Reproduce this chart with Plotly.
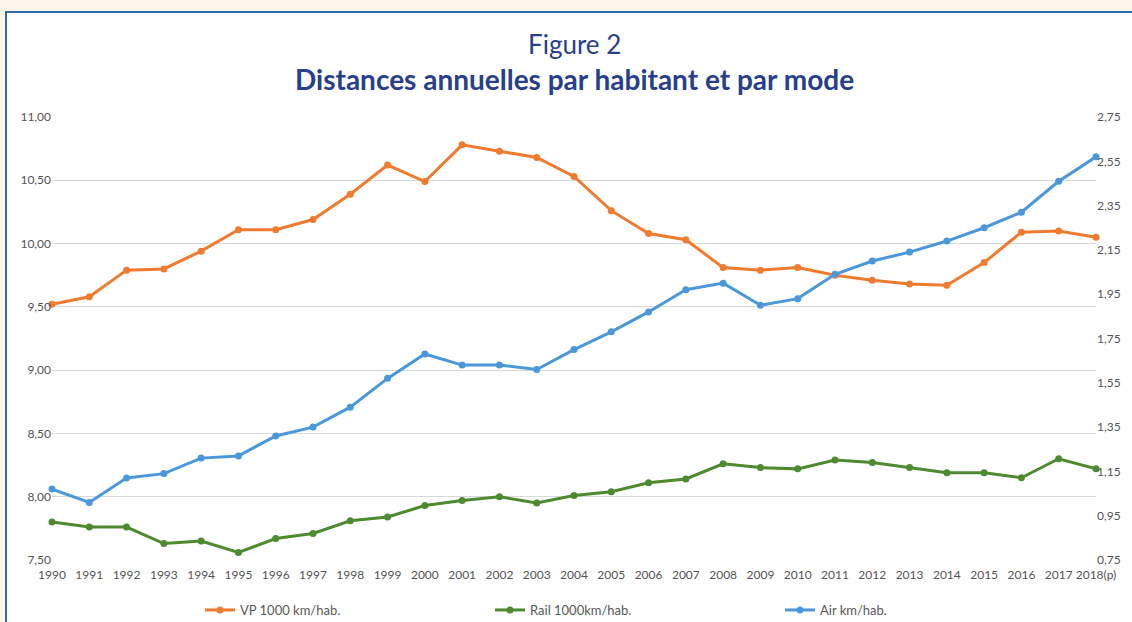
import plotly.graph_objects as go

years = [str(y) for y in range(1990, 2018)] + ["2018(p)"]

vp = [9.52, 9.58, 9.79, 9.80, 9.94, 10.11, 10.11, 10.19, 10.39, 10.62,
      10.49, 10.78, 10.73, 10.68, 10.53, 10.26, 10.08, 10.03, 9.81, 9.79,
      9.81, 9.75, 9.71, 9.68, 9.67, 9.85, 10.09, 10.10, 10.05]

rail = [7.80, 7.76, 7.76, 7.63, 7.65, 7.56, 7.67, 7.71, 7.81, 7.84,
        7.93, 7.97, 8.00, 7.95, 8.01, 8.04, 8.11, 8.14, 8.26, 8.23,
        8.22, 8.29, 8.27, 8.23, 8.19, 8.19, 8.15, 8.30, 8.22]

air = [1.07, 1.01, 1.12, 1.14, 1.21, 1.22, 1.31, 1.35, 1.44, 1.57,
       1.68, 1.63, 1.63, 1.61, 1.70, 1.78, 1.87, 1.97, 2.00, 1.90,
       1.93, 2.04, 2.10, 2.14, 2.19, 2.25, 2.32, 2.46, 2.57]

names = ["VP 1000 km/hab.", "Rail 1000km/hab.", "Air km/hab."]
colors = ["#EF7B30", "#4E8A30", "#4A98DA"]

left_ticks = [7.5, 8.0, 8.5, 9.0, 9.5, 10.0, 10.5, 11.0]
right_ticks = [0.75, 0.95, 1.15, 1.35, 1.55, 1.75, 1.95, 2.15, 2.35, 2.55, 2.75]

fig = go.Figure()
fig.add_trace(go.Scatter(x=years, y=vp, name=names[0], mode="lines+markers",
                         line=dict(color=colors[0], width=3),
                         marker=dict(size=7, color=colors[0]), cliponaxis=False))
fig.add_trace(go.Scatter(x=years, y=rail, name=names[1], mode="lines+markers",
                         line=dict(color=colors[1], width=3),
                         marker=dict(size=7, color=colors[1]), cliponaxis=False))
fig.add_trace(go.Scatter(x=years, y=air, name=names[2], mode="lines+markers",
                         line=dict(color=colors[2], width=3),
                         marker=dict(size=7, color=colors[2]), cliponaxis=False,
                         yaxis="y2"))

W, H = 1132, 622
L, R, T, B = 52, 1096, 117, 560
pw, ph = R - L, B - T


def px(x):
    return (x - L) / pw


def py(y):
    return (B - y) / ph


tickfont = dict(family="Lato", size=12, color="#545454")
title_color = "#28408C"

fig.update_layout(
    width=W, height=H,
    margin=dict(l=L, r=W - R, t=T, b=H - B),
    paper_bgcolor="#FDF4EA",
    plot_bgcolor="rgba(0,0,0,0)",
    separators=", ",
    showlegend=True,
    legend=dict(orientation="h", xref="container", yref="container",
                x=200 / W, xanchor="left", y=(H - 610) / H, yanchor="middle",
                font=dict(family="Lato", size=13, color="#595959"),
                entrywidth=245, entrywidthmode="pixels", bgcolor="rgba(0,0,0,0)"),
    xaxis=dict(type="category", range=[0, len(years) - 1], showgrid=False,
               zeroline=False, showline=False, ticks="", tickangle=0,
               ticklabelstandoff=6, tickfont=tickfont),
    yaxis=dict(range=[7.5, 11.0], tickvals=left_ticks, tickformat=".2f",
               showgrid=True, gridcolor="#D9D9D9", gridwidth=1, zeroline=False,
               showline=False, ticks="", tickfont=tickfont),
    yaxis2=dict(range=[0.75, 2.75], tickvals=right_ticks, tickformat=".2f",
                overlaying="y", side="right", showgrid=False, zeroline=False,
                showline=False, ticks="", tickfont=tickfont),
    shapes=[dict(type="rect", xref="paper", yref="paper", layer="below",
                 x0=px(6), x1=px(1145), y0=py(640), y1=py(12),
                 fillcolor="white", line=dict(color="#2F6DA6", width=2))],
    annotations=[
        dict(text="Figure 2", xref="paper", yref="paper", x=0.5, y=py(44),
             xanchor="center", yanchor="middle", showarrow=False,
             font=dict(family="Lato", size=26, color=title_color)),
        dict(text="<b>Distances annuelles par habitant et par mode</b>",
             xref="paper", yref="paper", x=0.5, y=py(79),
             xanchor="center", yanchor="middle", showarrow=False,
             font=dict(family="Lato", size=28, color=title_color)),
    ],
)

fig.write_html("out.html", config={"displayModeBar": False},
               post_script="document.body.style.margin='0';document.body.style.overflow='hidden';")
